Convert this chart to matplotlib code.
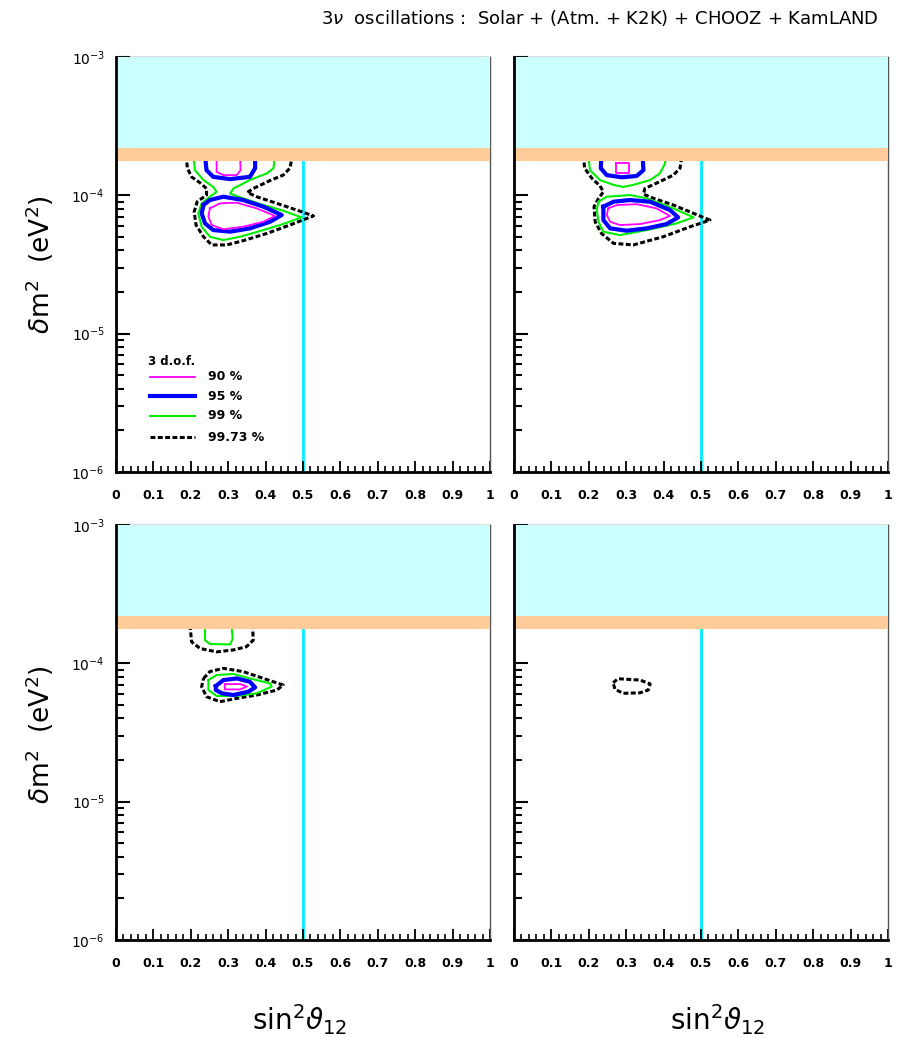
import numpy as np
import matplotlib.pyplot as plt
from matplotlib.ticker import LogLocator, MultipleLocator, NullFormatter

# confidence contours in the (sin^2 theta12, delta m^2) plane
# delta m^2 given in units of 1e-5 eV^2
# top left
tl_9973_s = [0.187, 0.191, 0.202, 0.225, 0.242, 0.242, 0.217, 0.209, 0.214, 0.234, 0.256, 0.296,
             0.340, 0.403, 0.465, 0.528, 0.483, 0.430, 0.376, 0.351, 0.367, 0.412, 0.447, 0.465, 0.472]
tl_9973_m = [19.5, 15.7, 13.6, 12.3, 11.2, 10.05, 8.99, 7.6, 6.1, 5.02, 4.38, 4.38,
             4.7, 5.3, 6.1, 7.1, 7.83, 8.75, 9.77, 10.5, 11.2, 12.8, 14.0, 15.7, 19.5]
tl_99_s = [0.207, 0.211, 0.234, 0.260, 0.269, 0.251, 0.229, 0.220, 0.229, 0.251, 0.287, 0.332,
           0.394, 0.447, 0.496, 0.447, 0.394, 0.340, 0.305, 0.314, 0.358, 0.403, 0.421, 0.425]
tl_99_m = [19.5, 15.2, 12.9, 11.5, 10.6, 9.77, 8.75, 7.41, 5.93, 5.02, 4.75, 5.02,
           5.61, 6.2, 6.93, 7.75, 8.51, 9.51, 10.3, 11.2, 12.9, 14.4, 15.7, 19.5]
tl_95a_s = [0.234, 0.251, 0.287, 0.340, 0.394, 0.443, 0.412, 0.358, 0.305, 0.260, 0.238, 0.229]
tl_95a_m = [8.51, 9.25, 9.77, 9.25, 8.28, 7.21, 6.44, 5.77, 5.46, 5.61, 6.27, 7.41]
tl_95b_s = [0.238, 0.242, 0.260, 0.305, 0.358, 0.372, 0.372]
tl_95b_m = [19.5, 15.2, 13.6, 13.1, 13.6, 15.7, 19.5]
tl_90a_s = [0.251, 0.278, 0.323, 0.376, 0.425, 0.394, 0.340, 0.287, 0.256, 0.247]
tl_90a_m = [8.05, 8.75, 8.85, 8.05, 7.10, 6.44, 5.93, 5.68, 6.10, 7.02]
tl_90b_s = [0.269, 0.269, 0.287, 0.323, 0.333, 0.332]
tl_90b_m = [19.5, 14.8, 14.0, 14.0, 15.2, 19.5]

# top right
tr_9973_s = [0.185, 0.189, 0.208, 0.230, 0.239, 0.226, 0.214, 0.217, 0.234, 0.266, 0.319,
             0.399, 0.471, 0.524, 0.480, 0.426, 0.373, 0.346, 0.350, 0.390, 0.426, 0.444, 0.449]
tr_9973_m = [19.5, 15.7, 13.3, 11.7, 10.6, 9.51, 8.28, 6.44, 5.3, 4.5, 4.38,
             5.02, 5.93, 6.62, 7.41, 8.51, 9.51, 10.2, 11.2, 12.57, 14.0, 15.7, 19.5]
tr_99a_s = [0.199, 0.203, 0.230, 0.266, 0.292, 0.319, 0.364, 0.390, 0.404, 0.406]
tr_99a_m = [19.5, 15.2, 12.9, 11.9, 11.5, 11.9, 12.9, 14.4, 17.0, 19.5]
tr_99b_s = [0.226, 0.248, 0.310, 0.355, 0.426, 0.480, 0.435, 0.355, 0.283, 0.239, 0.226, 0.221]
tr_99b_m = [8.99, 9.77, 10.05, 9.51, 8.05, 6.93, 6.27, 5.61, 5.16, 5.46, 6.44, 7.83]
tr_95a_s = [0.239, 0.266, 0.310, 0.364, 0.417, 0.439, 0.408, 0.355, 0.301, 0.257, 0.239]
tr_95a_m = [8.28, 8.99, 9.25, 8.99, 7.83, 6.93, 6.2, 5.77, 5.55, 5.77, 6.62]
tr_95b_s = [0.234, 0.232, 0.248, 0.288, 0.328, 0.346, 0.344]
tr_95b_m = [19.5, 15.7, 14.0, 13.5, 13.8, 15.2, 19.5]
tr_90a_s = [0.252, 0.275, 0.328, 0.381, 0.417, 0.390, 0.337, 0.283, 0.257, 0.248]
tr_90a_m = [8.05, 8.51, 8.63, 8.05, 7.10, 6.62, 6.2, 6.10, 6.44, 7.21]
tr_90b_s = [0.272, 0.272, 0.308, 0.308]
tr_90b_m = [17.0, 14.6, 14.6, 17.0]

# bottom left
bl_9973a_s = [0.198, 0.202, 0.225, 0.269, 0.314, 0.349, 0.367, 0.365]
bl_9973a_m = [18.9, 14.3, 12.8, 12.1, 12.5, 13.2, 14.7, 18.9]
bl_99a_s = [0.238, 0.238, 0.251, 0.305, 0.312, 0.309]
bl_99a_m = [18.9, 14.7, 13.8, 13.7, 15.0, 18.9]
bl_9973b_s = [0.234, 0.251, 0.287, 0.340, 0.394, 0.447, 0.430, 0.376, 0.323, 0.278, 0.242, 0.229]
bl_9973b_m = [7.78, 8.71, 9.2, 8.71, 7.78, 6.97, 6.41, 5.90, 5.58, 5.28, 5.74, 6.78]
bl_99b_s = [0.247, 0.269, 0.314, 0.358, 0.412, 0.416, 0.376, 0.323, 0.269, 0.247]
bl_99b_m = [7.57, 8.23, 8.38, 7.78, 7.16, 6.78, 6.07, 5.81, 5.81, 6.41]
bl_95_s = [0.267, 0.287, 0.323, 0.358, 0.372, 0.354, 0.314, 0.283, 0.267]
bl_95_m = [6.85, 7.57, 7.78, 7.36, 6.70, 6.24, 5.90, 6.07, 6.41]
bl_90_s = [0.291, 0.332, 0.350, 0.332, 0.291]
bl_90_m = [7.08, 7.08, 6.8, 6.48, 6.48]

# bottom right
br_9973_s = [0.265, 0.278, 0.337, 0.364, 0.359, 0.337, 0.292, 0.270]
br_9973_m = [7.24, 7.74, 7.57, 7.1, 6.41, 6.12, 6.07, 6.5]

x_ticks = [0, 0.1, 0.2, 0.3, 0.4, 0.5, 0.6, 0.7, 0.8, 0.9, 1]
x_labels = ['0', '0.1', '0.2', '0.3', '0.4', '0.5', '0.6', '0.7', '0.8', '0.9', '1']
cl_labels = ['90 %', '95 %', '99 %', '99.73 %']

band_cyan = (2.2e-4, 1e-3)
band_orange = (1.78e-4, 2.2e-4)

styles = {
    '90': dict(color='#ff00ff', lw=1.3, ls='-'),
    '95': dict(color='#0000ff', lw=3.0, ls='-'),
    '99': dict(color='#00ee00', lw=1.5, ls='-'),
    '9973': dict(color='black', lw=2.2, ls=(0, (1.6, 0.8))),
}

panels = [
    [('9973', tl_9973_s, tl_9973_m), ('99', tl_99_s, tl_99_m),
     ('95', tl_95a_s, tl_95a_m), ('95', tl_95b_s, tl_95b_m),
     ('90', tl_90a_s, tl_90a_m), ('90', tl_90b_s, tl_90b_m)],
    [('9973', tr_9973_s, tr_9973_m), ('99', tr_99a_s, tr_99a_m),
     ('99', tr_99b_s, tr_99b_m), ('95', tr_95a_s, tr_95a_m),
     ('95', tr_95b_s, tr_95b_m), ('90', tr_90a_s, tr_90a_m),
     ('90', tr_90b_s, tr_90b_m)],
    [('9973', bl_9973a_s, bl_9973a_m), ('99', bl_99a_s, bl_99a_m),
     ('9973', bl_9973b_s, bl_9973b_m), ('99', bl_99b_s, bl_99b_m),
     ('95', bl_95_s, bl_95_m), ('90', bl_90_s, bl_90_m)],
    [('9973', br_9973_s, br_9973_m)],
]

W, H = 901, 1038
fig = plt.figure(figsize=(W / 100, H / 100), dpi=100)
plt.rcParams['font.family'] = 'DejaVu Sans'

lefts = [116, 514, 116, 514]
tops = [57, 57, 525, 525]
axes = []
for i in range(4):
    ax = fig.add_axes([lefts[i] / W, 1 - (tops[i] + 415) / H, 374 / W, 415 / H])
    axes.append(ax)
    ax.set_xlim(0, 1)
    ax.set_yscale('log')
    ax.set_ylim(1e-6, 1e-3)

    ax.axhspan(*band_cyan, color='#ccffff', lw=0, zorder=3)
    ax.axhspan(*band_orange, color='#ffcc99', lw=0, zorder=3)
    ax.plot([0.5, 0.5], [1e-6, band_orange[0]], color='#00eeff', lw=2, zorder=1)

    for level, s, m in panels[i]:
        s = list(s) + [s[0]]
        m = np.array(list(m) + [m[0]]) * 1e-5
        ax.plot(s, m, zorder=2, **styles[level])

    for sp in ax.spines.values():
        sp.set_linewidth(1.0)
    ax.spines['left'].set_linewidth(2)
    ax.spines['bottom'].set_linewidth(2)
    ax.spines['left'].set_zorder(4)
    ax.spines['top'].set_color('#555555')
    ax.spines['right'].set_color('#555555')

    ax.set_xticks(x_ticks)
    ax.set_xticklabels(x_labels, fontsize=9, fontweight='bold')
    ax.xaxis.set_minor_locator(MultipleLocator(0.02))
    ax.yaxis.set_major_locator(LogLocator(base=10, numticks=10))
    ax.yaxis.set_minor_locator(LogLocator(base=10, subs=np.arange(2, 10), numticks=10))
    ax.yaxis.set_minor_formatter(NullFormatter())
    ax.tick_params(axis='x', which='major', direction='in', length=8, width=1.3,
                   pad=12, top=False)
    ax.tick_params(axis='x', which='minor', direction='in', length=4, width=1.2, top=False)
    ax.tick_params(axis='y', which='major', direction='in', length=10, width=1.5,
                   labelsize=10, pad=8, right=False)
    ax.tick_params(axis='y', which='minor', direction='in', length=6, width=1.5, right=False)
    if i % 2 == 1:
        ax.set_yticklabels([])

# legend box in the first panel
ax = axes[0]
ax.text(0.086, 0.267, '3 d.o.f.', transform=ax.transAxes, fontsize=8.5,
        fontweight='bold', va='center')
leg_y = [0.229, 0.183, 0.135, 0.084]
for lev, yy, lab in zip(['90', '95', '99', '9973'], leg_y, cl_labels):
    ax.plot([0.091, 0.211], [yy, yy], transform=ax.transAxes, **styles[lev])
    ax.text(0.245, yy, lab, transform=ax.transAxes, fontsize=9, fontweight='bold',
            va='center')

fig.text(600 / W, 1 - 18 / H,
         r'3$\nu$  oscillations :  Solar + (Atm. + K2K) + CHOOZ + KamLAND',
         ha='center', va='center', fontsize=13)
for yc in [265, 735]:
    fig.text(40 / W, 1 - yc / H, r'$\delta$m$^2$  (eV$^2$)', rotation=90,
             ha='center', va='center', fontsize=19)
for xc in [300, 718]:
    fig.text(xc / W, 1 - 1020 / H, r'sin$^2\vartheta_{12}$',
             ha='center', va='center', fontsize=20)

fig.savefig('out.png', dpi=100)
